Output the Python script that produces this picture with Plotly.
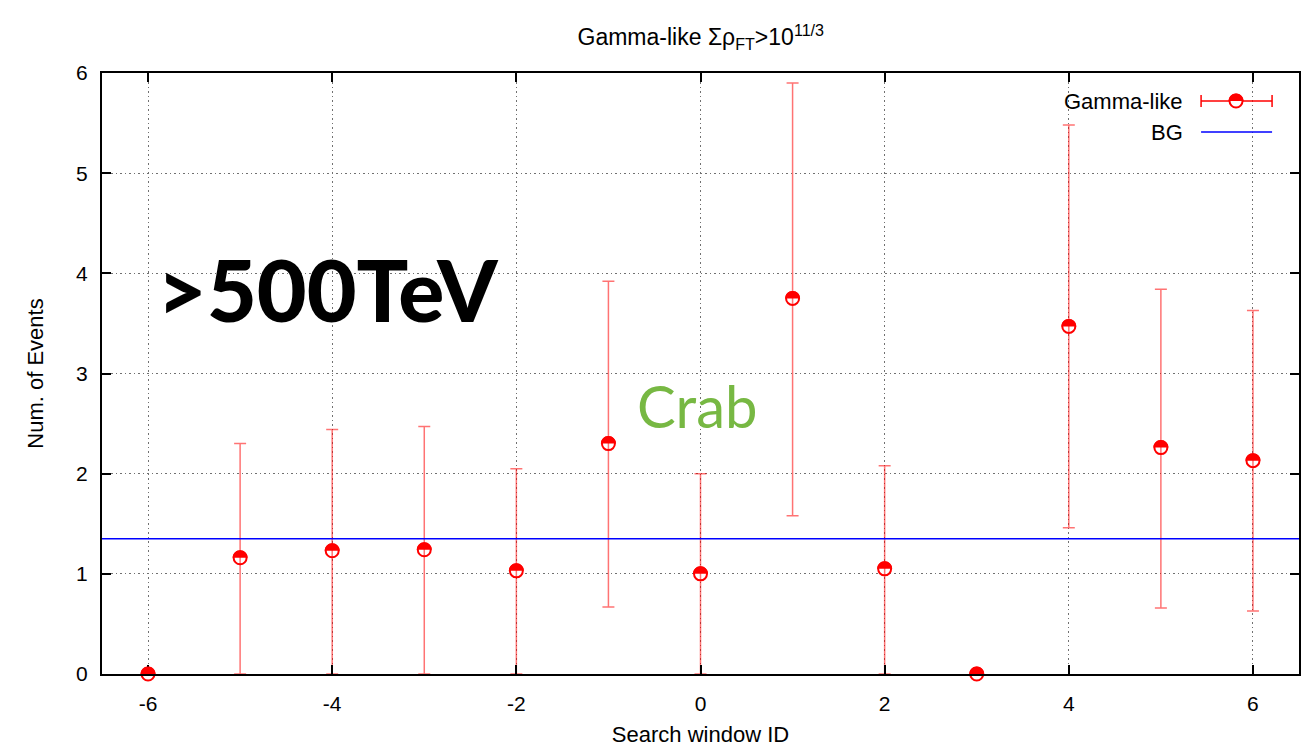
import plotly.graph_objects as go

# Event counts per search window, with asymmetric error bounds
window_id = [-6, -5, -4, -3, -2, -1, 0, 1, 2, 3, 4, 5, 6]
gamma_like = [0.00, 1.16, 1.23, 1.24, 1.03, 2.30, 1.00, 3.75, 1.05, 0.00, 3.47, 2.26, 2.13]
upper_bound = [0.00, 2.30, 2.44, 2.47, 2.05, 3.92, 2.00, 5.90, 2.08, 0.00, 5.48, 3.84, 3.63]
lower_bound = [0.00, 0.00, 0.00, 0.00, 0.00, 0.67, 0.00, 1.58, 0.00, 0.00, 1.46, 0.66, 0.63]
bg_level = 1.35

x_tick_vals = [-6, -4, -2, 0, 2, 4, 6]
x_tick_text = ["-6", "-4", "-2", "0", "2", "4", "6"]
y_tick_vals = [0, 1, 2, 3, 4, 5, 6]
y_tick_text = ["0", "1", "2", "3", "4", "5", "6"]

RED = "#ff0000"
ERR_RED = "rgba(255,0,0,0.55)"
BLUE = "#0000ff"
FONT = "Liberation Sans, Arial, sans-serif"
MARK_R = 7.5


def half_disk(r):
    """Upper half of a disk, in pixel offsets around its anchor."""
    k = 0.5523 * r
    return (f"M {-r},0 C {-r},{k} {-k},{r} 0,{r} "
            f"C {k},{r} {r},{k} {r},0 Z")


fig = go.Figure()

# open circles (lower half of each point stays white)
fig.add_trace(go.Scatter(
    x=window_id, y=gamma_like, mode="markers",
    marker=dict(symbol="circle", size=13, color="white",
                line=dict(color=RED, width=2)),
    cliponaxis=False, showlegend=False, hoverinfo="skip"))

# error bars drawn on top so the bar shows through the open half
fig.add_trace(go.Scatter(
    x=window_id, y=gamma_like, mode="markers",
    marker=dict(size=2, opacity=0),
    error_y=dict(type="data", symmetric=False,
                 array=[u - v for u, v in zip(upper_bound, gamma_like)],
                 arrayminus=[v - l for v, l in zip(gamma_like, lower_bound)],
                 color=ERR_RED, thickness=1.5, width=6),
    showlegend=False, name="Gamma-like"))

shapes = []
# background level
shapes.append(dict(type="line", xref="paper", yref="y", x0=0, x1=1,
                   y0=bg_level, y1=bg_level,
                   line=dict(color=BLUE, width=1.5), layer="above"))
# filled upper halves of the point markers
for xv, yv in zip(window_id, gamma_like):
    shapes.append(dict(type="path", xref="x", yref="y",
                       xsizemode="pixel", ysizemode="pixel",
                       xanchor=xv, yanchor=yv, path=half_disk(MARK_R),
                       fillcolor=RED, line=dict(width=0), layer="above"))

# legend (text on the left, sample on the right)
leg_x0, leg_x1, leg_xm = 0.9182, 0.9775, 0.9474
leg_y1, leg_y2 = 0.9534, 0.9018
shapes.append(dict(type="line", xref="paper", yref="paper",
                   x0=leg_x0, x1=leg_x1, y0=leg_y1, y1=leg_y1,
                   line=dict(color=RED, width=1.5)))
for cx in (leg_x0, leg_x1):
    shapes.append(dict(type="line", xref="paper", yref="paper",
                       ysizemode="pixel", yanchor=leg_y1,
                       x0=cx, x1=cx, y0=-6, y1=6,
                       line=dict(color=RED, width=1.5)))
shapes.append(dict(type="circle", xref="paper", yref="paper",
                   xsizemode="pixel", ysizemode="pixel",
                   xanchor=leg_xm, yanchor=leg_y1,
                   x0=-6.5, x1=6.5, y0=-6.5, y1=6.5,
                   fillcolor="white", line=dict(color=RED, width=2)))
shapes.append(dict(type="path", xref="paper", yref="paper",
                   xsizemode="pixel", ysizemode="pixel",
                   xanchor=leg_xm, yanchor=leg_y1, path=half_disk(MARK_R),
                   fillcolor=RED, line=dict(width=0)))
shapes.append(dict(type="line", xref="paper", yref="paper",
                   x0=leg_x0, x1=leg_x1, y0=leg_y2, y1=leg_y2,
                   line=dict(color=BLUE, width=1.5)))

annotations = [
    dict(text="Gamma-like", xref="paper", yref="paper", x=0.9048, y=leg_y1,
         xanchor="right", yanchor="middle", showarrow=False,
         font=dict(family=FONT, size=22, color="black")),
    dict(text="BG", xref="paper", yref="paper", x=0.9048, y=leg_y2,
         xanchor="right", yanchor="middle", showarrow=False,
         font=dict(family=FONT, size=22, color="black")),
    dict(text="&gt;500TeV", xref="x", yref="y", x=-4.05, y=3.85,
         xanchor="center", yanchor="middle", showarrow=False,
         font=dict(family="Lato, Open Sans, sans-serif", size=86,
                   color="black", weight=900)),
    dict(text="Crab", xref="x", yref="y", x=-0.03, y=2.68,
         xanchor="center", yanchor="middle", showarrow=False,
         font=dict(family="Lato, Open Sans, sans-serif", size=58,
                   color="#77b843")),
]

axis_common = dict(
    showline=True, linecolor="black", linewidth=2, mirror="ticks",
    ticks="inside", ticklen=9, tickwidth=1.5, tickcolor="black",
    showgrid=True, gridcolor="#707070", griddash="1.5px,3px", gridwidth=1.2,
    zeroline=False, tickfont=dict(family=FONT, size=21, color="black"),
)

fig.update_layout(
    width=1305, height=747,
    margin=dict(l=102, r=4, t=73, b=73),
    paper_bgcolor="white", plot_bgcolor="white",
    title=dict(text="Gamma-like Σρ<sub>FT</sub>&gt;10<sup>11/3</sup>",
               x=0.537, xanchor="center", y=0.950, yanchor="middle",
               yref="container",
               font=dict(family=FONT, size=23, color="black")),
    xaxis=dict(range=[-6.5, 6.5], tickvals=x_tick_vals, ticktext=x_tick_text,
               ticklabelstandoff=10,
               title=dict(text="Search window ID", standoff=12,
                          font=dict(family=FONT, size=22, color="black")),
               **axis_common),
    yaxis=dict(range=[0, 6], tickvals=y_tick_vals, ticktext=y_tick_text,
               ticklabelstandoff=8,
               title=dict(text="Num. of Events", standoff=26,
                          font=dict(family=FONT, size=22, color="black")),
               **axis_common),
    shapes=shapes, annotations=annotations,
)

fig.write_html("out.html")
